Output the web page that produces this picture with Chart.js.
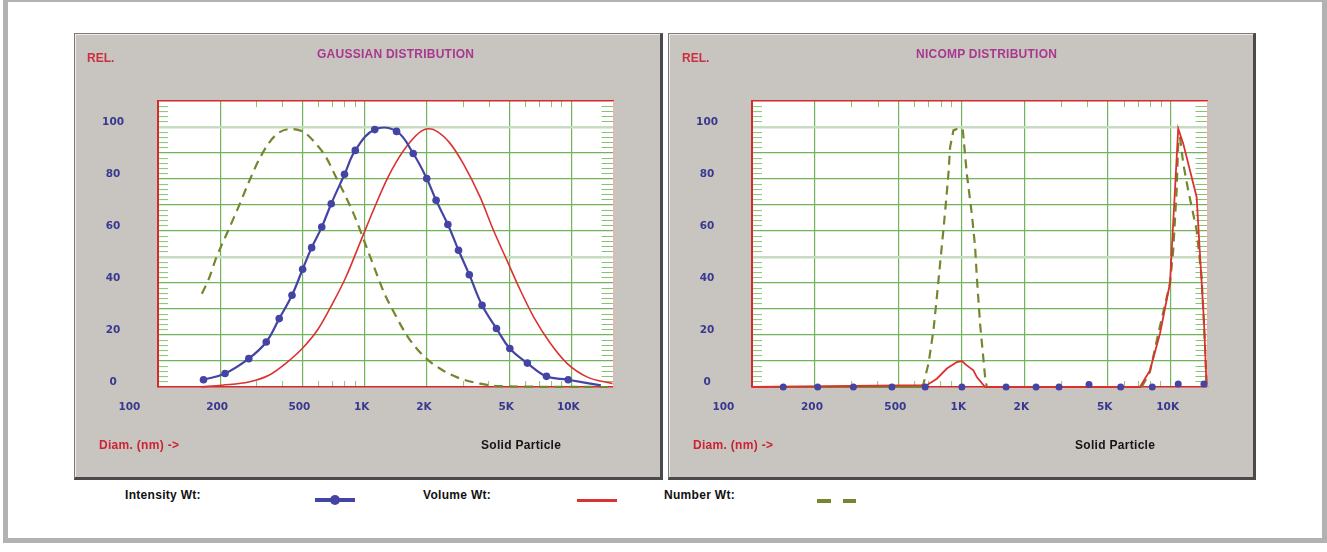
<!DOCTYPE html>
<html>
<head>
<meta charset="utf-8">
<title>Gaussian / Nicomp distribution</title>
<script src="https://cdn.jsdelivr.net/npm/chart.js@4.4.0/dist/chart.umd.min.js"></script>
<style>
    body {
        margin: 0;
        width: 1327px;
        height: 552px;
        background: #fff;
        position: relative;
        overflow: hidden;
        font-family: "Liberation Sans", Arial, sans-serif;
    }
    .frame {
        position: absolute;
        left: 3px;
        top: -3px;
        width: 1324px;
        height: 546px;
        box-sizing: border-box;
        border: 5px solid #b2b2b2;
    }
    .panel {
        position: absolute;
        top: 33px;
        height: 447px;
        box-sizing: border-box;
        background: #c8c5c0;
        border-top: 1px solid #7a7a7a;
        border-left: 1px solid #7a7a7a;
        border-right: 3px solid #4a4a4a;
        border-bottom: 3px solid #4a4a4a;
        box-shadow: inset 1px 1px 0 #eeece8;
    }
    canvas { position: absolute; top: 33px; }
    .txt {
        position: absolute;
        font-weight: bold;
        font-size: 12px;
        line-height: 12px;
        white-space: nowrap;
    }
    .rel { color: #cc2f3f; }
    .title { color: #a8378f; letter-spacing: 0.25px; }
    .diam { color: #cc2233; letter-spacing: 0.3px; }
    .solid { color: #151515; letter-spacing: 0.3px; }
    .leg { color: #111; letter-spacing: 0.3px; }
    .mark { position: absolute; }
</style>
</head>
<body>

<div class="frame"></div>
<div class="panel" style="left:74px; width:589px;"></div>
<div class="panel" style="left:668px; width:588px;"></div>

<canvas id="gaussChart" width="589" height="447" style="left:74px"></canvas>
<canvas id="nicompChart" width="588" height="447" style="left:668px"></canvas>

<div class="txt rel" style="left:87px; top:52px;">REL.</div>
<div class="txt title" style="left:317px; top:48px;">GAUSSIAN DISTRIBUTION</div>
<div class="txt diam" style="left:99px; top:439px;">Diam. (nm) -&gt;</div>
<div class="txt solid" style="left:481px; top:439px;">Solid Particle</div>

<div class="txt rel" style="left:682px; top:52px;">REL.</div>
<div class="txt title" style="left:916px; top:48px;">NICOMP DISTRIBUTION</div>
<div class="txt diam" style="left:693px; top:439px;">Diam. (nm) -&gt;</div>
<div class="txt solid" style="left:1075px; top:439px;">Solid Particle</div>

<!-- legend under the panels -->
<div class="txt leg" style="left:125px; top:489px;">Intensity Wt:</div>
<div class="mark" style="left:315px; top:498px; width:40px; height:4px; background:#4444a4;"></div>
<div class="mark" style="left:330px; top:495px; width:10px; height:10px; border-radius:50%; background:#4444a4;"></div>
<div class="txt leg" style="left:423px; top:489px;">Volume Wt:</div>
<div class="mark" style="left:577px; top:499px; width:40px; height:3px; background:#d83434;"></div>
<div class="txt leg" style="left:664px; top:489px;">Number Wt:</div>
<div class="mark" style="left:817px; top:499px; width:14px; height:4px; background:#74862e;"></div>
<div class="mark" style="left:843px; top:499px; width:13px; height:4px; background:#74862e;"></div>

<script>
// ================= DATA =================
const xMajorTicks = [100, 200, 500, 1000, 2000, 5000, 10000];
const xTickLabels = ["100", "200", "500", "1K", "2K", "5K", "10K"];
const xMinorTicks = [300, 400, 600, 700, 800, 900, 3000, 4000, 6000, 7000, 8000, 9000];
const yTickLabels = [0, 20, 40, 60, 80, 100];

// GAUSSIAN DISTRIBUTION (diameter nm / relative %)
const gaussIntensityX = [166, 211, 275, 334, 386, 445, 501, 554, 620, 689, 799, 901, 1119, 1427, 1718, 1997, 2217, 2527, 2846, 3209, 3700, 4343, 5041, 6127, 7583, 9659, 13900];
const gaussIntensityY = [2.8, 5.2, 10.9, 17.3, 26.3, 35.3, 45.3, 53.6, 61.5, 70.5, 81.8, 91, 99, 98.3, 89.8, 80.2, 71.8, 62.5, 52.6, 43.2, 31.4, 22.5, 14.8, 9.2, 4.1, 2.8, 0.6];
const gaussVolumeX = [162, 204, 275, 344, 414, 499, 590, 699, 812, 960, 1136, 1294, 1421, 1651, 1881, 2050, 2227, 2584, 3000, 3617, 4201, 4880, 5666, 6576, 7930, 9561, 11965, 15830];
const gaussVolumeY = [0, 0.7, 1.9, 4.5, 9, 14.8, 21.8, 32.1, 42.3, 56.4, 70.5, 80.5, 86.5, 94, 98.4, 99.3, 98.4, 93.8, 85.9, 73.1, 60.3, 48.7, 37.2, 26.9, 16.7, 9, 3.8, 1.3];
const gaussNumberX = [163, 175, 192, 219, 245, 275, 313, 370, 438, 509, 580, 649, 726, 797, 891, 978, 1094, 1247, 1369, 1620, 1953, 2311, 2786, 3617, 4528, 16000];
const gaussNumberY = [35.9, 41, 50, 60.3, 69.2, 78.8, 88.5, 96.8, 99.2, 98, 93.6, 88.5, 80.8, 74.4, 66, 57.7, 47.5, 35.9, 29.5, 19.2, 11.5, 7.1, 3.8, 1.3, 0.3, 0];

// NICOMP DISTRIBUTION
const nicompIntensityX = [141, 206, 305, 466, 672, 1006, 1636, 2275, 2930, 4074, 5771, 8170, 10870, 14420];
const nicompIntensityY = [0, 0, 0, 0, 0, 0, 0, 0, 0, 1, 0, 0, 1.2, 1.2];
const nicompVolumeX = [100, 684, 764, 853, 952, 1006, 1062, 1142, 1186, 1299, 7137, 7963, 8890, 9924, 10485, 10870, 11487, 13310, 13800, 14420, 14850];
const nicompVolumeY = [0, 0.7, 3.2, 7.1, 9.6, 10, 8.3, 6.4, 3.8, 0, 0, 6.4, 20.5, 39.8, 75.7, 99.4, 93.6, 73.1, 51.3, 25.7, 0];
const nicompNumberX = [100, 640, 660, 697, 736, 764, 792, 821, 846, 868, 884, 917, 987, 1017, 1062, 1122, 1164, 1186, 1229, 1299, 1323, 7271, 7963, 8727, 9924, 10290, 10680, 10870, 11080, 11490, 12130, 13310, 14060, 14580, 14850];
const nicompNumberY = [0, 0, 1.3, 9, 21.8, 34.6, 47.5, 60.3, 71.8, 82.1, 92.3, 98.7, 99.8, 98.7, 82.1, 66.7, 53.8, 42.3, 24.4, 3.8, 0, 0, 5.8, 20.5, 39.8, 52.6, 75.7, 93.6, 96.2, 85.9, 75.7, 60.3, 42.3, 16.7, 1.3];

// ================= STYLE =================
const BLUE = "#4444a4";
const RED = "#dd3030";
const OLIVE = "#74862e";
const GREEN = "#6fb35a";
const LIGHT_GREEN = "#c6dcc0";
const MINOR_GREEN = "#86c474";
const BORDER_RED = "#d42a2a";
const NAVY = "#38388f";
const NONE = "rgba(0,0,0,0)";
const TICK_FONT = { family: "'DejaVu Sans', sans-serif", size: 10.5, weight: "bold" };

Chart.defaults.font.family = "'DejaVu Sans', sans-serif";

function points(xs, ys) {
    return xs.map((x, i) => ({ x: x, y: ys[i] }));
}

function isMajorX(v) {
    return xMajorTicks.indexOf(v) >= 0;
}

function xLabel(v) {
    const i = xMajorTicks.indexOf(v);
    if (i < 0) return "";
    // the first label sits left of the axis start in the original
    return i === 0 ? xTickLabels[0] + " ".repeat(14) : xTickLabels[i];
}

function yTicks(scale) {
    const t = [];
    for (let v = 0; v <= 110; v += 2) t.push({ value: v });
    scale.ticks = t;
}

function yGridColor(c) {
    if (!c.tick) return NONE;
    const v = c.tick.value;
    if (v % 10 !== 0 || v === 0 || v === 110) return NONE;
    return (v === 50 || v === 100) ? LIGHT_GREEN : GREEN;
}

function yMinorColor(c) {
    return (c.tick && c.tick.value % 10 !== 0) ? MINOR_GREEN : NONE;
}

// white plot area
const plotBackground = {
    id: "plotBackground",
    beforeDraw(chart) {
        const a = chart.chartArea;
        const ctx = chart.ctx;
        ctx.save();
        ctx.fillStyle = "#fff";
        ctx.fillRect(a.left, a.top, a.right - a.left, a.bottom - a.top);
        ctx.restore();
    }
};

function buildOptions(xMax, canvasWidth) {
    return {
        responsive: false,
        animation: false,
        events: [],
        layout: { padding: { left: 0, top: 68, right: canvasWidth - 539.5, bottom: 53 } },
        plugins: { legend: { display: false }, tooltip: { enabled: false } },
        scales: {
            x: {
                type: "logarithmic",
                position: "bottom",
                min: 100,
                max: xMax,
                afterBuildTicks: s => {
                    s.ticks = xMajorTicks.concat(xMinorTicks).sort((a, b) => a - b).map(v => ({ value: v }));
                },
                afterFit: s => { s.height = 40; },
                border: { color: BORDER_RED, width: 1.5 },
                grid: {
                    color: c => (c.tick && isMajorX(c.tick.value) && c.tick.value > 100) ? GREEN : NONE,
                    lineWidth: 1.2,
                    drawTicks: true,
                    tickLength: -6,
                    tickWidth: 1,
                    tickColor: c => (c.tick && !isMajorX(c.tick.value)) ? MINOR_GREEN : NONE
                },
                ticks: {
                    autoSkip: false,
                    maxRotation: 0,
                    minRotation: 0,
                    padding: 20,
                    labelOffset: -3,
                    color: NAVY,
                    font: TICK_FONT,
                    callback: v => xLabel(v)
                }
            },
            x2: {
                type: "logarithmic",
                position: "top",
                display: true,
                min: 100,
                max: xMax,
                afterBuildTicks: s => { s.ticks = xMinorTicks.map(v => ({ value: v })); },
                afterFit: s => { s.height = 0; },
                border: { color: BORDER_RED, width: 1.5 },
                grid: { drawOnChartArea: false, drawTicks: true, tickLength: -6, tickWidth: 1, tickColor: MINOR_GREEN },
                ticks: { display: false }
            },
            y: {
                type: "linear",
                position: "left",
                min: 0,
                max: 110,
                afterBuildTicks: yTicks,
                afterFit: s => { s.width = 84; },
                border: { color: BORDER_RED, width: 2 },
                grid: {
                    color: yGridColor,
                    lineWidth: c => (c.tick && (c.tick.value === 50 || c.tick.value === 100)) ? 2.5 : 1.2,
                    drawTicks: true,
                    tickLength: -10,
                    tickWidth: 1,
                    tickColor: yMinorColor
                },
                ticks: {
                    autoSkip: false,
                    crossAlign: "center",
                    padding: 44,
                    labelOffset: -5,
                    color: NAVY,
                    font: TICK_FONT,
                    callback: v => yTickLabels.includes(v) ? String(v) : ""
                }
            },
            y2: {
                type: "linear",
                position: "right",
                display: true,
                min: 0,
                max: 110,
                afterBuildTicks: yTicks,
                afterFit: s => { s.width = 0; },
                border: { color: "#f2b0b0", width: 1 },
                grid: { drawOnChartArea: false, drawTicks: true, tickLength: -12, tickWidth: 1, tickColor: yMinorColor },
                ticks: { display: false }
            }
        }
    };
}

function numberDash(ctx) {
    // flat stretches on the baseline read as a solid line
    return (ctx.p0.parsed.y === 0 && ctx.p1.parsed.y === 0) ? [] : [9, 6];
}

// ================= GAUSSIAN =================
new Chart(document.getElementById("gaussChart"), {
    type: "line",
    data: {
        datasets: [
            {
                label: "Intensity Wt",
                data: points(gaussIntensityX, gaussIntensityY),
                borderColor: BLUE,
                backgroundColor: BLUE,
                borderWidth: 2.2,
                pointRadius: c => c.dataIndex === gaussIntensityX.length - 1 ? 0 : 3.8,
                pointBackgroundColor: BLUE,
                pointBorderWidth: 0,
                tension: 0.4,
                clip: 8,
                xAxisID: "x",
                yAxisID: "y"
            },
            {
                label: "Volume Wt",
                data: points(gaussVolumeX, gaussVolumeY),
                borderColor: RED,
                borderWidth: 1.6,
                pointRadius: 0,
                cubicInterpolationMode: "monotone",
                clip: 8,
                xAxisID: "x",
                yAxisID: "y"
            },
            {
                label: "Number Wt",
                data: points(gaussNumberX, gaussNumberY),
                borderColor: OLIVE,
                borderWidth: 2.2,
                borderDash: [9, 6],
                segment: { borderDash: numberDash },
                pointRadius: 0,
                cubicInterpolationMode: "monotone",
                clip: 8,
                xAxisID: "x",
                yAxisID: "y"
            }
        ]
    },
    options: buildOptions(16000, 589),
    plugins: [plotBackground]
});

// ================= NICOMP =================
new Chart(document.getElementById("nicompChart"), {
    type: "line",
    data: {
        datasets: [
            {
                label: "Intensity Wt",
                data: points(nicompIntensityX, nicompIntensityY),
                showLine: false,
                pointRadius: 3.5,
                pointBackgroundColor: BLUE,
                pointBorderWidth: 0,
                clip: 8,
                xAxisID: "x",
                yAxisID: "y"
            },
            {
                label: "Volume Wt",
                data: points(nicompVolumeX, nicompVolumeY),
                borderColor: RED,
                borderWidth: 1.8,
                pointRadius: 0,
                tension: 0,
                clip: 8,
                xAxisID: "x",
                yAxisID: "y"
            },
            {
                label: "Number Wt",
                data: points(nicompNumberX, nicompNumberY),
                borderColor: OLIVE,
                borderWidth: 2.2,
                borderDash: [9, 6],
                segment: { borderDash: numberDash },
                pointRadius: 0,
                tension: 0,
                clip: 8,
                xAxisID: "x",
                yAxisID: "y"
            }
        ]
    },
    options: buildOptions(15000, 588),
    plugins: [plotBackground]
});
</script>
</body>
</html>
